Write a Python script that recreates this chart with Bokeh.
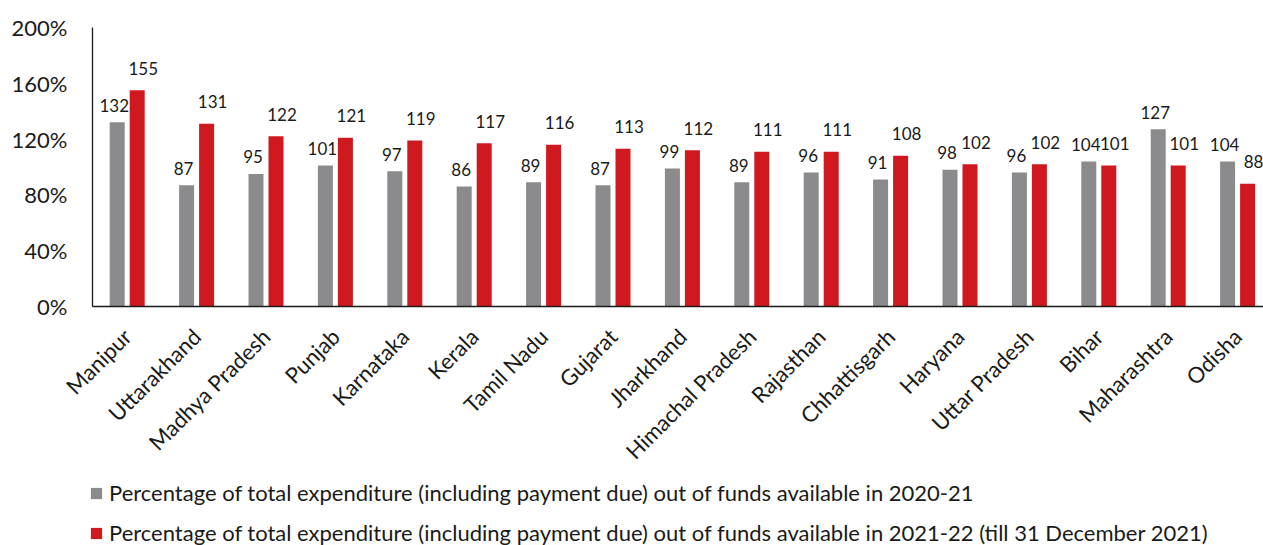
import math
from bokeh.plotting import figure
from bokeh.models import Range1d, FixedTicker, Legend, LegendItem, LinearAxis
from bokeh.embed import file_html
from bokeh.resources import INLINE
from bokeh.core.properties import value

states = ["Manipur", "Uttarakhand", "Madhya Pradesh", "Punjab", "Karnataka", "Kerala",
          "Tamil Nadu", "Gujarat", "Jharkhand", "Himachal Pradesh", "Rajasthan",
          "Chhattisgarh", "Haryana", "Uttar Pradesh", "Bihar", "Maharashtra", "Odisha"]
pct_2020_21 = [132, 87, 95, 101, 97, 86, 89, 87, 99, 89, 96, 91, 98, 96, 104, 127, 104]
pct_2021_22 = [155, 131, 122, 121, 119, 117, 116, 113, 112, 111, 111, 108, 102, 102, 101, 101, 88]
y_ticks = [0, 40, 80, 120, 160, 200]
y_tick_labels = ["0%", "40%", "80%", "120%", "160%", "200%"]
legend_labels = [
    "Percentage of total expenditure (including payment due) out of funds available in 2020-21",
    "Percentage of total expenditure (including payment due) out of funds available in 2021-22 (till 31 December 2021)",
]

GRAY = "#8b8b8d"
RED = "#d0181f"
INK = "#1a1a1a"
FONT = "Lato"

# layout (screen pixels): the plot frame covers the whole canvas, axes are drawn inside it
W, H = 1263, 545
TOP_PX, LEFT_PX, ZERO_PX = 27, 92, 306
px_per_unit = (ZERO_PX - TOP_PX) / 200.0
y_lo = -(H - ZERO_PX) / px_per_unit
y_hi = 200 + TOP_PX / px_per_unit
slot_px = 69.4
x_lo = -0.5 - LEFT_PX / slot_px
x_hi = -0.5 + (W - LEFT_PX) / slot_px

p = figure(width=W, height=H, output_backend="svg", toolbar_location=None,
           x_axis_location=None, y_axis_location=None,
           x_range=Range1d(x_lo, x_hi), y_range=Range1d(y_lo, y_hi),
           min_border_left=0, min_border_right=0, min_border_top=0, min_border_bottom=0)
p.outline_line_color = None
p.xgrid.visible = False
p.ygrid.visible = False

n = len(states)
xs = list(range(n))
off = 10 / slot_px
bw = 15 / slot_px
r1 = p.vbar(x=[i - off for i in xs], top=pct_2020_21, bottom=0, width=bw, fill_color=GRAY, line_color=None)
r2 = p.vbar(x=[i + off for i in xs], top=pct_2021_22, bottom=0, width=bw, fill_color=RED, line_color=None)

p.text(x=[i - off for i in xs], y=pct_2020_21, text=[str(v) for v in pct_2020_21],
       text_align="center", text_baseline="middle", x_offset=-3, y_offset=-17,
       text_font=value(FONT), text_font_size="17px", text_color=INK)
p.text(x=[i + off for i in xs], y=pct_2021_22, text=[str(v) for v in pct_2021_22],
       text_align="center", text_baseline="middle", x_offset=6, y_offset=-22,
       text_font=value(FONT), text_font_size="17px", text_color=INK)

# x axis drawn at the 0% line
xa = LinearAxis(fixed_location=0, bounds=(-0.5, x_hi))
xa.ticker = FixedTicker(ticks=xs)
xa.major_label_overrides = {i: s for i, s in enumerate(states)}
xa.major_label_orientation = math.pi / 4
xa.major_tick_line_color = None
xa.minor_tick_line_color = None
xa.major_label_standoff = 20
xa.major_label_text_font = FONT
xa.major_label_text_font_size = "22px"
xa.major_label_text_color = INK
xa.axis_line_color = INK
xa.axis_line_width = 1.3
p.add_layout(xa, "below")

# y axis drawn at the left edge of the first category slot
ya = LinearAxis(fixed_location=-0.5, bounds=(0, 200))
ya.ticker = FixedTicker(ticks=y_ticks)
ya.major_label_overrides = {t: l for t, l in zip(y_ticks, y_tick_labels)}
ya.major_tick_line_color = None
ya.minor_tick_line_color = None
ya.major_label_standoff = 19
ya.major_label_text_font = FONT
ya.major_label_text_font_size = "22px"
ya.major_label_text_color = INK
ya.axis_line_color = INK
ya.axis_line_width = 1.3
p.add_layout(ya, "left")

legend = Legend(items=[LegendItem(label=legend_labels[0], renderers=[r1]),
                       LegendItem(label=legend_labels[1], renderers=[r2])],
                location=(89, -1), orientation="vertical",
                padding=0, margin=0, spacing=13, label_height=24,
                glyph_width=14, glyph_height=14, label_standoff=6,
                label_text_font=FONT, label_text_font_size="22px",
                label_text_color=INK,
                border_line_color=None, background_fill_alpha=0)
p.add_layout(legend)

open("out.html", "w").write(file_html(p, INLINE))
